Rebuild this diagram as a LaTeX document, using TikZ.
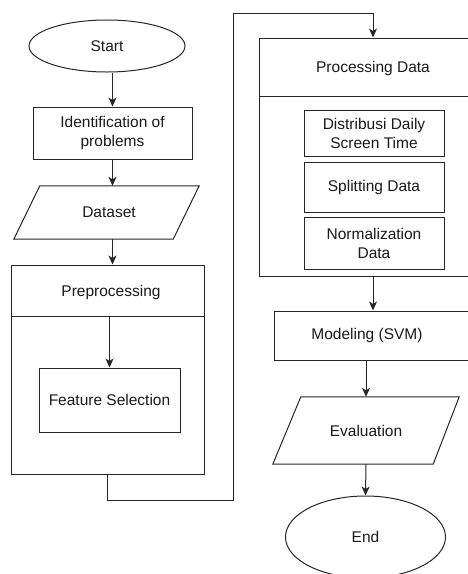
\documentclass[tikz,border=0pt]{standalone}
\usepackage{fontspec}
\setmainfont{Liberation Sans}
\usetikzlibrary{arrows.meta,shapes.geometric,calc}
\begin{document}
\begin{tikzpicture}[x=1pt,y=-1pt,
  every node/.style={font=\fontsize{15.5}{19}\selectfont, text=black!90},
  ln/.style={draw=black!85, line width=1pt},
  box/.style={ln, rectangle, inner sep=0pt, align=center},
  oval/.style={ln, ellipse, inner sep=0pt},
  plain/.style={inner sep=0pt, align=center},
  arr/.style={ln, -{Stealth[length=9pt,width=8pt,inset=2.5pt]}},
  con/.style={ln}]
\useasboundingbox (0,0) rectangle (468,574);
\clip (0,0) rectangle (468,574);

% left column
\node[oval, minimum width=156pt, minimum height=52pt] (start) at (107,46) {Start};
\node[box, minimum width=159pt, minimum height=52pt] (ident) at (112.5,133) {Identification of\\problems};
\node[plain, minimum width=185pt, minimum height=53pt] (dataset) at (106.5,212.5) {\hspace*{5pt}Dataset};
\draw[ln] ([xshift=26pt]dataset.north west) -- (dataset.north east)
  -- ([xshift=-26pt]dataset.south east) -- (dataset.south west) -- cycle;

\node[box, minimum width=193pt, minimum height=209pt] (prep) at (107.5,369.5) {};
\coordinate (prephead) at ($(prep.north west)+(0,52)$);
\draw[ln] (prephead) -- (prephead -| prep.east);
\node[plain] (preptitle) at (111,292) {Preprocessing};
\node[box, minimum width=141pt, minimum height=64pt] (fs) at (109.5,400) {Feature Selection};

% right column
\node[box, minimum width=228pt, minimum height=238pt] (proc) at (373,157) {};
\coordinate (prochead) at ($(proc.north west)+(0,59)$);
\draw[ln] (prochead) -- (prochead -| proc.east);
\node[plain] (proctitle) at (373,68) {Processing Data};
\node[box, minimum width=140pt, minimum height=46pt] (b1) at (374,133) {Distribusi Daily\\Screen Time};
\node[box, minimum width=140pt, minimum height=50pt] (b2) at (374,187) {Splitting Data};
\node[box, minimum width=140pt, minimum height=52pt] (b3) at (374,243) {Normalization\\Data};

\node[box, minimum width=196pt, minimum height=49pt] (model) at (372,335.5) {\hspace*{-10pt}Modeling (SVM)};
\node[plain, minimum width=186pt, minimum height=67pt] (eval) at (366,430.5) {Evaluation};
\draw[ln] ([xshift=28pt]eval.north west) -- (eval.north east)
  -- ([xshift=-26pt]eval.south east) -- (eval.south west) -- cycle;
\node[oval, minimum width=160pt, minimum height=82pt] (end) at (365.5,537) {End};

% connectors
\draw[arr] (ident.north |- start.south) -- (ident.north);
\draw[arr] (ident.south) -- (ident.south |- dataset.north);
\draw[arr] (ident.south |- dataset.south) -- (ident.south |- prep.north);
\draw[arr] (fs.north |- prephead) -- (fs.north);
\coordinate (c1) at (233,500);
\coordinate (c2) at (233,13);
\draw[arr] (prep.south) |- (c1) -- (c2) -| (proc.north);
\draw[arr] (proc.south) -- (proc.south |- model.north);
\draw[arr] (eval.north |- model.south) -- (eval.north);
\draw[arr] (eval.south) -- (end.north);
\end{tikzpicture}
\end{document}
